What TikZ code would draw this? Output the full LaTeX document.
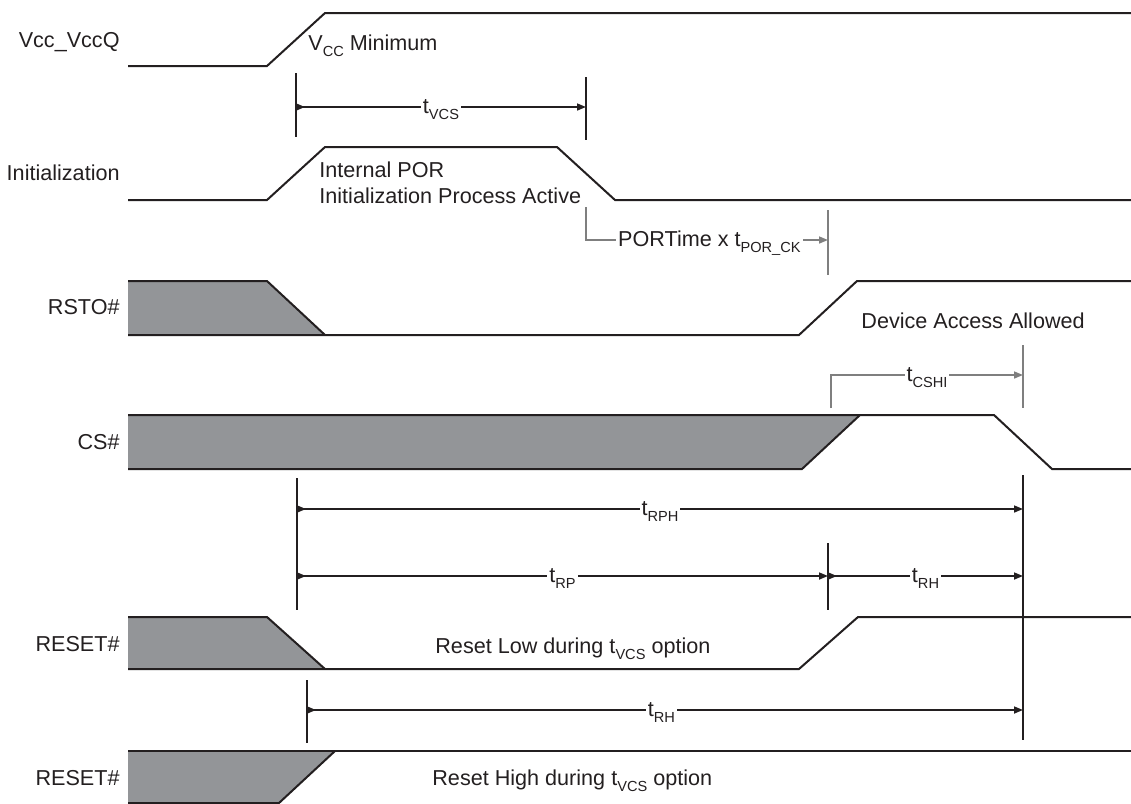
\documentclass[tikz,border=0pt]{standalone}
\usepackage{fontspec}
\setmainfont{Liberation Sans}
\usetikzlibrary{arrows.meta,positioning}

\definecolor{inkDark}{HTML}{231F20}
\definecolor{busGray}{HTML}{939598}
\definecolor{dimGrayC}{HTML}{7F7F7F}
\newcommand{\lowsub}[1]{\raisebox{-3pt}{\fontsize{7.3}{8}\selectfont #1}}

\begin{document}
\begin{tikzpicture}[
			x=0.5pt, y=-0.5pt,
			font=\fontsize{10.8}{13}\selectfont,
			% Styles
			wave/.style={line width=1pt, draw=inkDark},
			busFill/.style={fill=busGray, draw=none},
			tick/.style={line width=0.9pt, draw=inkDark},
			tickGray/.style={line width=0.9pt, draw=dimGrayC},
			dimLine/.style={line width=0.8pt, draw=inkDark, {Triangle[reversed,length=4.5pt,width=3.5pt]}-{Triangle[length=4.5pt,width=3.5pt]}},
			dimGray/.style={line width=0.8pt, draw=dimGrayC, -{Triangle[length=4.5pt,width=3.5pt]}},
			sigName/.style={anchor=base east, text=inkDark, inner sep=0pt},
			note/.style={anchor=base west, text=inkDark, inner sep=0pt},
			tLabel/.style={anchor=base, yshift=-3pt, fill=white, inner sep=1pt, text=inkDark}
		]
		\useasboundingbox (0,0) rectangle (1131,804);

		% --- 1. SIGNAL NAMES ---
		\node[sigName] (nVcc)  at (120,47)  {Vcc\_VccQ};
		\node[sigName] (nInit) at (120,180) {Initialization};
		\node[sigName] (nRsto) at (120,314) {RSTO\#};
		\node[sigName] (nCs)   at (120,449) {CS\#};
		\node[sigName] (nResL) at (120,651) {RESET\#};
		\node[sigName] (nResH) at (120,785) {RESET\#};

		% --- 2. WAVEFORMS ---
		% Vcc and internal POR
		\draw[wave] (128,66) -- (267,66) -- (325,13) -- (1131,13);
		\draw[wave] (128,200) -- (267,200) -- (325,147) -- (557,147) -- (615,200) -- (1131,200);

		% RSTO#
		\fill[busFill] (128,281) -- (267,281) -- (325,335) -- (128,335) -- cycle;
		\draw[wave] (128,281) -- (267,281) -- (325,335);
		\draw[wave] (128,335) -- (799,335) -- (857,281) -- (1131,281);

		% CS#
		\fill[busFill] (128,415) -- (860,415) -- (802,469) -- (128,469) -- cycle;
		\draw[wave] (128,415) -- (994,415) -- (1052,469) -- (1131,469);
		\draw[wave] (128,469) -- (802,469) -- (860,415);

		% RESET# (low during tVCS)
		\fill[busFill] (128,617) -- (267,617) -- (325,669) -- (128,669) -- cycle;
		\draw[wave] (128,617) -- (267,617) -- (325,669);
		\draw[wave] (128,669) -- (799,669) -- (858,617) -- (1131,617);

		% RESET# (high during tVCS)
		\fill[busFill] (128,751) -- (335,751) -- (279,803) -- (128,803) -- cycle;
		\draw[wave] (128,751) -- (1131,751);
		\draw[wave] (128,803) -- (279,803) -- (335,751);

		% --- 3. TEXT IN THE WAVES ---
		\node[note] (nVmin)    at (308,50)  {V\lowsub{CC} Minimum};
		\node[note] (nPor1)    at (319,177) {Internal POR};
		\node[note] (nPor2)    at (319,203) {Initialization Process Active};
		\node[note] (nAccess)  at (861,328) {Device Access Allowed};
		\node[note] (nResLow)  at (435,653) {Reset Low during t\lowsub{VCS} option};
		\node[note] (nResHigh) at (432,785) {Reset High during t\lowsub{VCS}\ option};

		% --- 4. TIMING PARAMETERS ---
		% tVCS
		\coordinate (vcsL) at (296,107);
		\coordinate (vcsR) at (586,107);
		\draw[tick] (vcsL) ++(0,-34) -- ++(0,64);
		\draw[tick] (vcsR) ++(0,-30) -- ++(0,63);
		\draw[dimLine] (vcsL) -- (vcsR) node[tLabel, pos=0.5] {t\lowsub{VCS}};

		% PORTime x tPOR_CK
		\coordinate (porA) at (586,207);
		\coordinate (porB) at (828,240);
		\draw[tickGray] (porB) ++(0,-30) -- ++(0,65);
		\draw[dimGray] (porA) -- (porA |- porB) -- (porB) node[tLabel, pos=0.51] {PORTime x t\lowsub{POR\_CK}};

		% tCSHI
		\coordinate (cshA) at (831,408);
		\coordinate (cshB) at (1023,375);
		\draw[tickGray] (cshB) ++(0,-30) -- ++(0,63);
		\draw[dimGray] (cshA) -- (cshA |- cshB) -- (cshB) node[tLabel, pos=0.5] {t\lowsub{CSHI}};

		% reference lines
		\coordinate (endTop) at (1023,475);
		\coordinate (endBot) at (1023,740);
		\draw[tick] (endTop) -- (endBot);
		\coordinate (startTop) at (297,478);
		\coordinate (startBot) at (297,610);
		\draw[tick] (startTop) -- (startBot);

		% tRPH
		\coordinate (rphL) at (297,509);
		\coordinate (rphR) at (1023,509);
		\draw[dimLine] (rphL) -- (rphR) node[tLabel, pos=0.5] {t\lowsub{RPH}};

		% tRP and tRH
		\coordinate (rpL) at (297,576);
		\coordinate (rpM) at (828,576);
		\coordinate (rhR) at (1023,576);
		\draw[tick] (rpM) ++(0,-33) -- ++(0,67);
		\draw[dimLine] (rpL) -- (rpM) node[tLabel, pos=0.5] {t\lowsub{RP}};
		\draw[dimLine] (rpM) -- (rhR) node[tLabel, pos=0.5] {t\lowsub{RH}};

		% tRH (reset high option)
		\coordinate (rhL2) at (307,710);
		\coordinate (rhR2) at (1023,710);
		\draw[tick] (rhL2) ++(0,-30) -- ++(0,63);
		\draw[dimLine] (rhL2) -- (rhR2) node[tLabel, pos=0.495] {t\lowsub{RH}};

	\end{tikzpicture}
\end{document}
